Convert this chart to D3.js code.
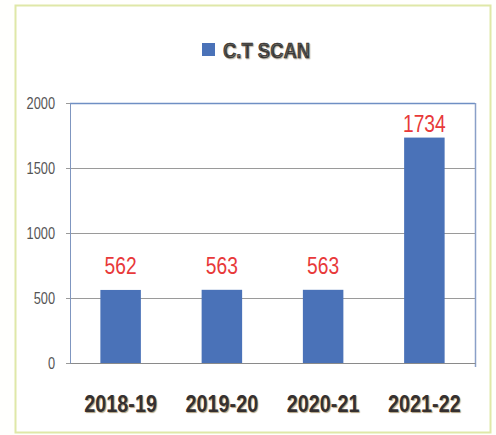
<!DOCTYPE html>
<html>
<head>
<meta charset="utf-8">
<script src="https://cdn.jsdelivr.net/npm/d3@7"></script>
<style>
  body { margin: 0; background: #fffffd; }
  svg text { font-family: "Liberation Sans", Arial, sans-serif; }
</style>
</head>
<body>
<svg></svg>
<script>
var years = ["2018-19", "2019-20", "2020-21", "2021-22"];
var scans = [562, 563, 563, 1734];
var yTicks = [0, 500, 1000, 1500, 2000];
var seriesName = "C.T SCAN";

var W = 496, H = 435;
var margin = { top: 103, right: 21, bottom: 72, left: 70 },
	width = W - margin.left - margin.right,
	height = H - margin.top - margin.bottom;

// squeeze text horizontally to look like a condensed face
function narrow(sel, s) {
	sel.each(function() {
		var t = d3.select(this);
		var x0 = +t.attr("x") || 0;
		t.attr("x", x0 / s).attr("transform", "scale(" + s + ",1)");
	});
}

var svg = d3.select("svg")
	.attr("width", W)
	.attr("height", H);

// outer frame
svg.append("rect")
	.attr("x", 15.5).attr("y", 5.5)
	.attr("width", 475).attr("height", 427)
	.attr("fill", "#ffffff")
	.attr("stroke", "#dfe8a8")
	.attr("stroke-width", 2);

// legend / title
var legend = svg.append("g").attr("transform", "translate(202,43)");
legend.append("rect")
	.attr("width", 13).attr("height", 13)
	.attr("fill", "#4a72b8");
legend.append("text")
	.attr("x", 21).attr("y", 15)
	.attr("font-size", 22)
	.attr("font-weight", "bold")
	.attr("fill", "#2e2e2e")
	.attr("stroke", "#2e2e2e")
	.attr("stroke-width", 0.6)
	.style("text-shadow", "1px 1px 1px #b8b0a0")
	.text(seriesName)
	.call(narrow, 0.84);

var g = svg.append("g")
	.attr("transform", "translate(" + margin.left + "," + margin.top + ")");

var x = d3.scaleBand()
	.domain(years)
	.range([0, width])
	.paddingInner(0.6)
	.paddingOuter(0.3);

var y = d3.scaleLinear()
	.domain([0, 2000])
	.range([height, 0]);

// gridlines
g.selectAll(".grid")
	.data(yTicks)
	.enter().append("line")
	.attr("x1", -4).attr("x2", width)
	.attr("y1", function(d) { return Math.round(y(d)) + 0.5; })
	.attr("y2", function(d) { return Math.round(y(d)) + 0.5; })
	.attr("stroke", "#9a9a9a")
	.attr("stroke-width", 1);

// plot frame (top and right in blue)
g.append("line")
	.attr("x1", 0).attr("x2", width)
	.attr("y1", 0.5).attr("y2", 0.5)
	.attr("stroke", "#6f8fc4").attr("stroke-width", 1.5);
g.append("line")
	.attr("x1", width + 0.5).attr("x2", width + 0.5)
	.attr("y1", 0).attr("y2", height + 4)
	.attr("stroke", "#8aa0c8").attr("stroke-width", 1.5);

// bars
g.selectAll(".bar")
	.data(scans)
	.enter().append("rect")
	.attr("x", function(d, i) { return x(years[i]); })
	.attr("y", function(d) { return y(d); })
	.attr("width", x.bandwidth())
	.attr("height", function(d) { return height - y(d); })
	.attr("fill", "#4a72b8");

// value labels
g.selectAll(".val")
	.data(scans)
	.enter().append("text")
	.attr("x", function(d, i) { return x(years[i]) + x.bandwidth() / 2; })
	.attr("y", function(d) { return Math.max(y(d) - 16, 29); })
	.attr("text-anchor", "middle")
	.attr("font-size", 24)
	.attr("fill", "#e8393a")
	.text(function(d) { return d; })
	.call(narrow, 0.8);

// y axis
var yAxis = g.append("g")
	.call(d3.axisLeft(y).tickValues(yTicks).tickFormat(d3.format("d")).tickSize(4).tickPadding(11));
yAxis.select(".domain").attr("stroke", "#7f96c0");
yAxis.selectAll(".tick line").attr("stroke", "#9a9a9a");
yAxis.selectAll("text")
	.attr("font-size", 16)
	.attr("fill", "#555")
	.call(narrow, 0.8);

// x axis
var xAxis = g.append("g")
	.attr("transform", "translate(0," + height + ")")
	.call(d3.axisBottom(x).tickSize(0).tickPadding(33));
xAxis.select(".domain").attr("stroke", "#8a8a8a");
xAxis.selectAll("text")
	.attr("font-size", 23)
	.attr("font-weight", "bold")
	.attr("fill", "#353030")
	.style("text-shadow", "1px 1px 1px #b0a080")
	.call(narrow, 0.86);
</script>
</body>
</html>
